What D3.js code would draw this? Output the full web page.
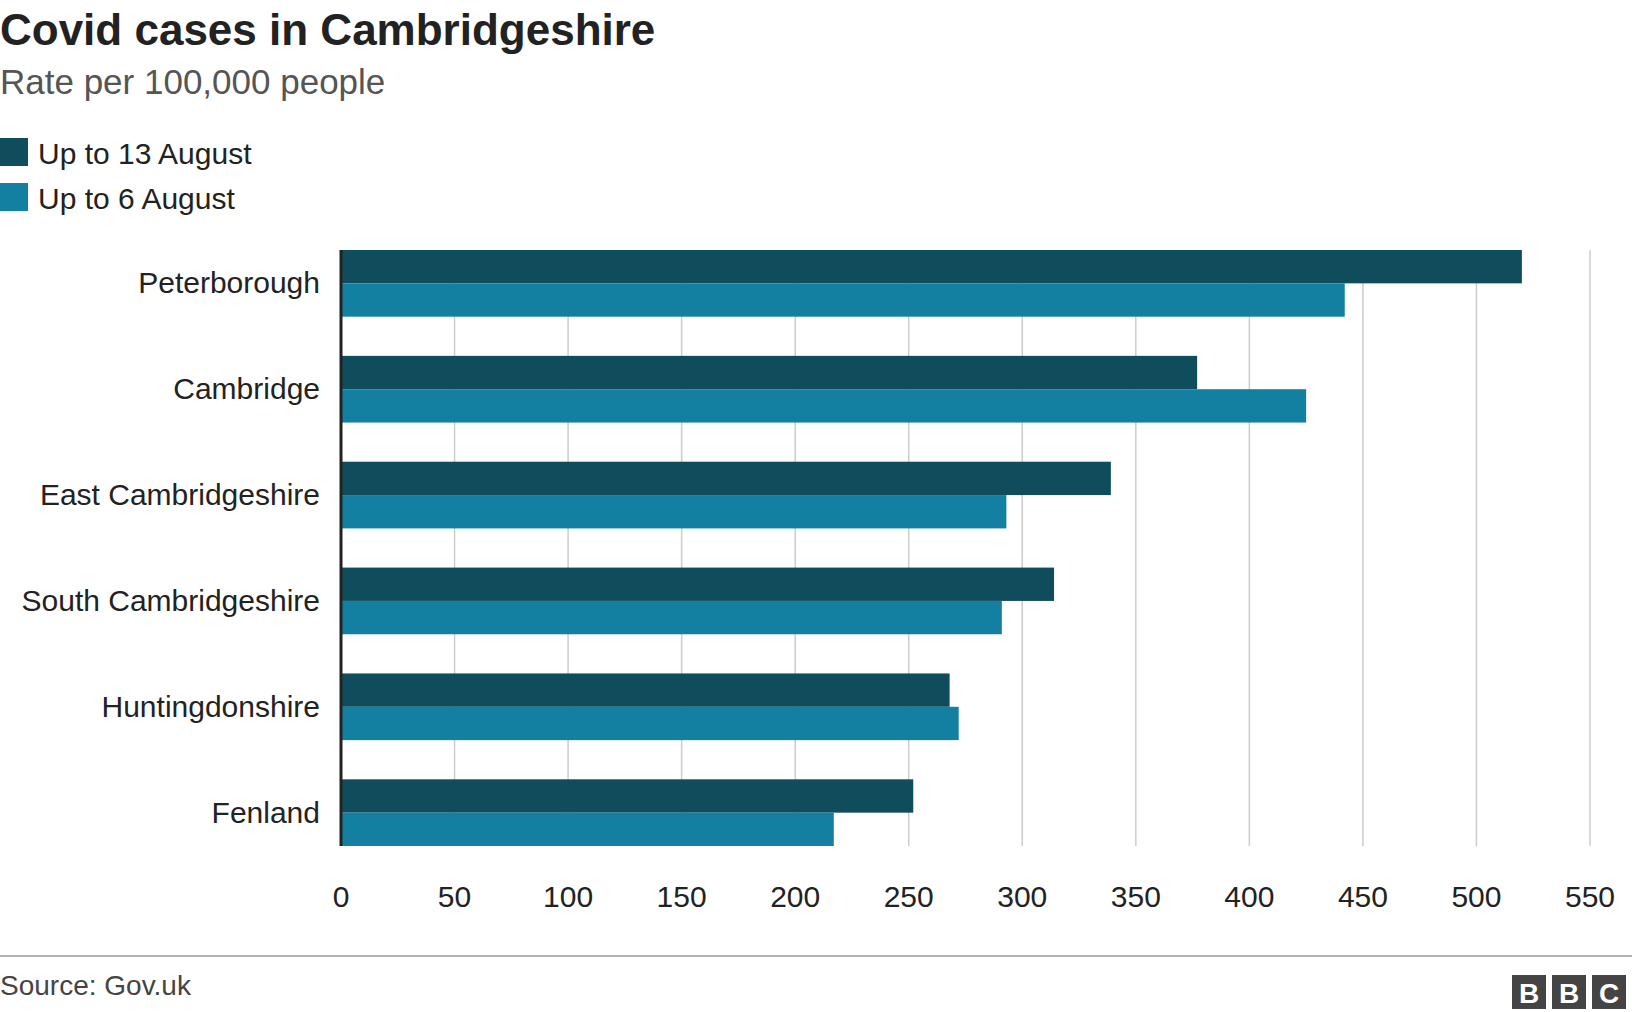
<!DOCTYPE html>
<html><head><meta charset="utf-8">
<script src="https://cdn.jsdelivr.net/npm/d3@7"></script>
<style>body{margin:0;background:#fff;font-family:Arial,"Liberation Sans",sans-serif}</style>
</head><body><svg id="c" width="1632" height="1012"></svg>
<script>
const categories=["Peterborough","Cambridge","East Cambridgeshire","South Cambridgeshire","Huntingdonshire","Fenland"];
const seriesNames=["Up to 13 August","Up to 6 August"];
const aug13=[520,377,339,314,268,252];
const aug6=[442,425,293,291,272,217];
const ticks=[0,50,100,150,200,250,300,350,400,450,500,550];
const colors=["#0f4c5c","#1380a1"];
const svg=d3.select("#c");
const F="Arial, 'Liberation Sans', sans-serif";
const L=341,R=1590,T=250,B=846;
const x=d3.scaleLinear().domain([0,550]).range([L,R]);
const y=d3.scaleBand().domain(categories).range([T,B]).paddingInner(0.37).paddingOuter(0);
const y2=d3.scaleBand().domain([0,1]).range([0,y.bandwidth()]);
svg.append("text").attr("x",0).attr("y",45).attr("font-size",44).attr("font-weight","bold").attr("font-family",F).attr("fill","#222").text("Covid cases in Cambridgeshire");
svg.append("text").attr("x",0).attr("y",94).attr("font-size",35).attr("font-family",F).attr("fill","#555").text("Rate per 100,000 people");
seriesNames.forEach((n,i)=>{
  svg.append("rect").attr("x",0).attr("y",138+i*45).attr("width",28).attr("height",28).attr("fill",colors[i]);
  svg.append("text").attr("x",38).attr("y",164+i*45).attr("font-size",30).attr("font-family",F).attr("fill","#222").text(n);
});
svg.append("g").selectAll("line").data(ticks.slice(1)).join("line")
 .attr("x1",d=>x(d)).attr("x2",d=>x(d)).attr("y1",T).attr("y2",B).attr("stroke","#cccccc").attr("stroke-width",1.5);
[aug13,aug6].forEach((vals,s)=>{
  svg.append("g").selectAll("rect").data(vals).join("rect")
   .attr("x",x(0)).attr("y",(d,i)=>y(categories[i])+y2(s)).attr("width",d=>x(d)-x(0)).attr("height",y2.bandwidth()).attr("fill",colors[s]);
});
svg.append("line").attr("x1",L).attr("x2",L).attr("y1",T).attr("y2",B).attr("stroke","#222").attr("stroke-width",3);
svg.append("g").selectAll("text").data(categories).join("text")
 .attr("x",320).attr("y",d=>y(d)+y.bandwidth()/2+10).attr("text-anchor","end").attr("font-size",30).attr("font-family",F).attr("fill","#222").text(d=>d);
svg.append("g").selectAll("text").data(ticks).join("text")
 .attr("x",d=>x(d)).attr("y",907).attr("text-anchor","middle").attr("font-size",30).attr("font-family",F).attr("fill","#222").text(d=>d);
svg.append("line").attr("x1",0).attr("x2",1632).attr("y1",956).attr("y2",956).attr("stroke","#999").attr("stroke-width",1.5);
svg.append("text").attr("x",0).attr("y",995).attr("font-size",28).attr("font-family",F).attr("fill","#444").text("Source: Gov.uk");
["B","B","C"].forEach((c,i)=>{
  const bx=1512+i*40;
  svg.append("rect").attr("x",bx).attr("y",975).attr("width",34).attr("height",34).attr("fill","#444");
  svg.append("text").attr("x",bx+17).attr("y",1003).attr("text-anchor","middle").attr("font-size",28).attr("font-weight","bold").attr("font-family",F).attr("fill","#fff").text(c);
});
</script></body></html>
